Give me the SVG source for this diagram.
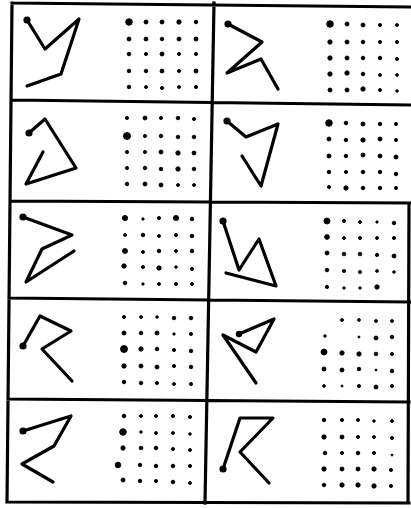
<svg xmlns="http://www.w3.org/2000/svg" width="411" height="508" viewBox="0 0 411 508">
<style>
.frame{fill:none;stroke:#000;stroke-width:3.2;stroke-linecap:square}
.fig{fill:none;stroke:#000;stroke-width:3.2;stroke-linecap:round;stroke-linejoin:round}
.s{fill:#000}
.d{fill:#000;stroke:#000;stroke-width:0.9}
</style>
<rect width="411" height="508" fill="#fff"/>
<g id="grid">
<path class="frame" d="M12,3 L7,502 M12,3 L411,7 M214,3 L205,503 M12,100 L411,105 M11,201 L411,203 M9,298 L411,302 M8,399 L409,402 M7,502 L409,503 M409,203 L408,503"/>
</g>
<g id="cell-1-left">
<polyline class="fig" points="27,20 45,49 79,19 61,74 27,86"/>
<circle class="s" cx="27" cy="20" r="3.6"/>
<g class="d">
<circle cx="129" cy="22" r="3.3"/><circle cx="146" cy="22" r="2"/><circle cx="162" cy="22" r="2"/><circle cx="179" cy="22" r="2.2"/><circle cx="196" cy="22" r="1.8"/>
<circle cx="129" cy="39" r="2"/><circle cx="146" cy="39" r="2"/><circle cx="162" cy="39" r="1.8"/><circle cx="179" cy="39" r="2"/><circle cx="196" cy="39" r="2"/>
<circle cx="129" cy="54" r="1.8"/><circle cx="146" cy="54" r="1.6"/><circle cx="162" cy="54" r="2"/><circle cx="179" cy="54" r="1.6"/><circle cx="196" cy="54" r="1.6"/>
<circle cx="129" cy="71" r="1.8"/><circle cx="146" cy="71" r="1.8"/><circle cx="162" cy="71" r="2"/><circle cx="179" cy="71" r="1.6"/><circle cx="196" cy="71" r="2"/>
<circle cx="129" cy="87" r="1.8"/><circle cx="146" cy="87" r="1.5"/><circle cx="162" cy="88" r="1.6"/><circle cx="179" cy="87" r="1.5"/><circle cx="196" cy="87" r="1.6"/>
</g>
</g>
<g id="cell-1-right">
<polyline class="fig" points="228,24 262,42 227,73 261,59 278,89"/>
<circle class="s" cx="228" cy="24" r="3.6"/>
<g class="d">
<circle cx="330" cy="24" r="3.3"/><circle cx="347" cy="24" r="2"/><circle cx="363" cy="25" r="2"/><circle cx="380" cy="25" r="1.6"/><circle cx="397" cy="25" r="1.5"/>
<circle cx="330" cy="42" r="2.2"/><circle cx="347" cy="42" r="2"/><circle cx="363" cy="42" r="1.8"/><circle cx="380" cy="42" r="1.6"/><circle cx="397" cy="42" r="1.6"/>
<circle cx="330" cy="58" r="2.2"/><circle cx="347" cy="58" r="2"/><circle cx="363" cy="58" r="1.8"/><circle cx="380" cy="58" r="1.8"/><circle cx="397" cy="59" r="1.6"/>
<circle cx="330" cy="74" r="2.2"/><circle cx="347" cy="73" r="2.2"/><circle cx="363" cy="74" r="1.8"/><circle cx="380" cy="75" r="1.5"/><circle cx="397" cy="75" r="1.4"/>
<circle cx="330" cy="90" r="2"/><circle cx="347" cy="90" r="2"/><circle cx="363" cy="89" r="2.2"/><circle cx="380" cy="90" r="1.5"/><circle cx="397" cy="91" r="1.3"/>
</g>
</g>
<g id="cell-2-left">
<polyline class="fig" points="29,133 45,119 76,168 26,184 43,152"/>
<circle class="s" cx="29" cy="133" r="3.6"/>
<g class="d">
<circle cx="127" cy="118" r="1.6"/><circle cx="145" cy="118" r="2"/><circle cx="161" cy="118" r="1.6"/><circle cx="178" cy="118" r="1.8"/><circle cx="194" cy="119" r="1.6"/>
<circle cx="127" cy="136" r="3.5"/><circle cx="145" cy="136" r="1.6"/><circle cx="161" cy="136" r="1.8"/><circle cx="178" cy="137" r="1.8"/><circle cx="194" cy="137" r="1.8"/>
<circle cx="127" cy="152" r="1.6"/><circle cx="145" cy="152" r="1.6"/><circle cx="161" cy="152" r="2"/><circle cx="178" cy="153" r="2.2"/><circle cx="194" cy="153" r="2"/>
<circle cx="127" cy="168" r="1.6"/><circle cx="145" cy="168" r="1.8"/><circle cx="161" cy="169" r="1.8"/><circle cx="178" cy="169" r="2.2"/><circle cx="194" cy="169" r="1.8"/>
<circle cx="127" cy="184" r="1.8"/><circle cx="145" cy="184" r="2"/><circle cx="161" cy="185" r="2"/><circle cx="178" cy="185" r="1.5"/><circle cx="194" cy="185" r="1.5"/>
</g>
</g>
<g id="cell-2-right">
<polyline class="fig" points="227,121 246,137 278,124 261,186 242,156"/>
<circle class="s" cx="227" cy="121" r="3.6"/>
<g class="d">
<circle cx="329" cy="123" r="3.3"/><circle cx="346" cy="123" r="1.8"/><circle cx="363" cy="124" r="2"/><circle cx="380" cy="124" r="1.8"/><circle cx="396" cy="124" r="1.6"/>
<circle cx="329" cy="139" r="2"/><circle cx="346" cy="140" r="1.8"/><circle cx="363" cy="140" r="2.2"/><circle cx="380" cy="139" r="2"/><circle cx="396" cy="140" r="1.6"/>
<circle cx="329" cy="156" r="2"/><circle cx="346" cy="156" r="1.8"/><circle cx="363" cy="155" r="2"/><circle cx="380" cy="156" r="2"/><circle cx="396" cy="157" r="2"/>
<circle cx="329" cy="172" r="1.8"/><circle cx="346" cy="172" r="1.6"/><circle cx="363" cy="172" r="1.8"/><circle cx="380" cy="172" r="1.8"/><circle cx="396" cy="174" r="1.8"/>
<circle cx="329" cy="187" r="1.6"/><circle cx="346" cy="188" r="2.2"/><circle cx="363" cy="188" r="1.8"/><circle cx="380" cy="188" r="1.8"/><circle cx="396" cy="188" r="1.6"/>
</g>
</g>
<g id="cell-3-left">
<polyline class="fig" points="23,217 72,235 42,249 26,282 74,251"/>
<circle class="s" cx="23" cy="217" r="3.6"/>
<g class="d">
<circle cx="125" cy="218" r="2.6"/><circle cx="143" cy="219" r="1.2"/><circle cx="159" cy="218" r="1.6"/><circle cx="176" cy="218" r="2.6"/><circle cx="192" cy="219" r="1.8"/>
<circle cx="125" cy="235" r="1.5"/><circle cx="143" cy="235" r="1.8"/><circle cx="159" cy="236" r="1.5"/><circle cx="176" cy="235" r="1.6"/><circle cx="192" cy="236" r="1.8"/>
<circle cx="125" cy="251" r="2.5"/><circle cx="143" cy="252" r="1.5"/><circle cx="159" cy="251" r="1.8"/><circle cx="176" cy="251" r="1.5"/><circle cx="192" cy="251" r="1.8"/>
<circle cx="124" cy="266" r="2.2"/><circle cx="143" cy="267" r="1.6"/><circle cx="159" cy="268" r="2.2"/><circle cx="176" cy="267" r="1.3"/><circle cx="192" cy="269" r="1.6"/>
<circle cx="125" cy="283" r="1.8"/><circle cx="143" cy="284" r="1.2"/><circle cx="159" cy="284" r="1.5"/><circle cx="176" cy="284" r="1.6"/><circle cx="192" cy="284" r="1.5"/>
</g>
</g>
<g id="cell-3-right">
<polyline class="fig" points="223,221 239,270 259,239 276,286 226,273"/>
<circle class="s" cx="223" cy="221" r="3.6"/>
<g class="d">
<circle cx="327" cy="221" r="3"/><circle cx="344" cy="221" r="1.6"/><circle cx="360" cy="222" r="1.5"/><circle cx="377" cy="222" r="1.2"/><circle cx="394" cy="223" r="1.8"/>
<circle cx="327" cy="237" r="2.4"/><circle cx="344" cy="238" r="1.5"/><circle cx="360" cy="238" r="1.6"/><circle cx="377" cy="238" r="1.5"/><circle cx="394" cy="238" r="1.6"/>
<circle cx="327" cy="253" r="2"/><circle cx="344" cy="254" r="1.8"/><circle cx="360" cy="254" r="1.8"/><circle cx="377" cy="255" r="1.6"/><circle cx="394" cy="256" r="2"/>
<circle cx="327" cy="270" r="1.8"/><circle cx="344" cy="271" r="1.6"/><circle cx="360" cy="272" r="1.6"/><circle cx="377" cy="271" r="1.4"/><circle cx="394" cy="272" r="1.3"/>
<circle cx="327" cy="287" r="1.6"/><circle cx="344" cy="288" r="1.2"/><circle cx="360" cy="288" r="1.2"/><circle cx="377" cy="287" r="2.2"/>
</g>
</g>
<g id="cell-4-left">
<polyline class="fig" points="23,346 40,316 71,331 42,349 72,381"/>
<circle class="s" cx="23" cy="346" r="3.6"/>
<g class="d">
<circle cx="124" cy="317" r="1.6"/><circle cx="141" cy="317" r="1.5"/><circle cx="157" cy="317" r="1.3"/><circle cx="174" cy="318" r="1.8"/><circle cx="191" cy="318" r="1.8"/>
<circle cx="124" cy="333" r="2"/><circle cx="141" cy="333" r="1.8"/><circle cx="157" cy="333" r="2"/><circle cx="174" cy="334" r="1.2"/><circle cx="191" cy="334" r="1.6"/>
<circle cx="124" cy="349" r="3.5"/><circle cx="141" cy="349" r="2.2"/><circle cx="157" cy="349" r="1.8"/><circle cx="174" cy="350" r="1.6"/><circle cx="191" cy="351" r="1.8"/>
<circle cx="124" cy="366" r="2.2"/><circle cx="141" cy="366" r="2"/><circle cx="157" cy="367" r="2"/><circle cx="174" cy="366" r="1.6"/><circle cx="191" cy="367" r="1.8"/>
<circle cx="124" cy="382" r="1.8"/><circle cx="141" cy="383" r="1.8"/><circle cx="157" cy="383" r="1.6"/><circle cx="174" cy="384" r="1.5"/><circle cx="191" cy="384" r="1.6"/>
</g>
</g>
<g id="cell-4-right">
<polyline class="fig" points="239,334 274,319 256,352 223,335 256,383"/>
<circle class="s" cx="239" cy="334" r="3.2"/>
<g class="d">
<circle cx="342" cy="320" r="1.5"/><circle cx="359" cy="320" r="1.4"/><circle cx="376" cy="321" r="1.5"/><circle cx="392" cy="321" r="1.5"/>
<circle cx="325" cy="336" r="1.3"/><circle cx="359" cy="337" r="1"/><circle cx="376" cy="338" r="2"/><circle cx="392" cy="337" r="1.8"/>
<circle cx="324" cy="352" r="3"/><circle cx="342" cy="353" r="2.2"/><circle cx="359" cy="354" r="2.2"/><circle cx="376" cy="354" r="1.8"/><circle cx="392" cy="354" r="1.6"/>
<circle cx="324" cy="369" r="2"/><circle cx="342" cy="370" r="2"/><circle cx="359" cy="369" r="1.8"/><circle cx="376" cy="370" r="1"/><circle cx="392" cy="371" r="1.8"/>
<circle cx="324" cy="386" r="1.4"/><circle cx="342" cy="386" r="1"/><circle cx="359" cy="386" r="1.6"/><circle cx="376" cy="387" r="2"/><circle cx="392" cy="386" r="1.6"/>
</g>
</g>
<g id="cell-5-left">
<polyline class="fig" points="23,431 71,416 54,446 22,464 53,482"/>
<circle class="s" cx="23" cy="431" r="3.6"/>
<g class="d">
<circle cx="124" cy="416" r="1.8"/><circle cx="141" cy="416" r="1.5"/><circle cx="156" cy="416" r="1.5"/><circle cx="173" cy="416" r="1.6"/><circle cx="190" cy="417" r="1.6"/>
<circle cx="123" cy="432" r="3.3"/><circle cx="141" cy="432" r="1.3"/><circle cx="156" cy="433" r="1.5"/><circle cx="173" cy="433" r="1.5"/><circle cx="190" cy="434" r="1.3"/>
<circle cx="123" cy="448" r="2.2"/><circle cx="141" cy="448" r="1.8"/><circle cx="156" cy="448" r="1.8"/><circle cx="173" cy="449" r="1.6"/><circle cx="190" cy="450" r="1.5"/>
<circle cx="118" cy="465" r="2.8"/><circle cx="140" cy="465" r="1.8"/><circle cx="156" cy="466" r="1.8"/><circle cx="173" cy="466" r="1.8"/><circle cx="190" cy="466" r="1.6"/>
<circle cx="123" cy="480" r="2"/><circle cx="140" cy="481" r="1.8"/><circle cx="156" cy="481" r="1.6"/><circle cx="173" cy="482" r="1.8"/><circle cx="190" cy="483" r="1.5"/>
</g>
</g>
<g id="cell-5-right">
<polyline class="fig" points="223,469 240,418 273,418 240,452 269,483"/>
<circle class="s" cx="223" cy="469" r="3.6"/>
<g class="d">
<circle cx="324" cy="420" r="1.8"/><circle cx="342" cy="420" r="1.6"/><circle cx="358" cy="420" r="1.5"/><circle cx="374" cy="421" r="1.3"/><circle cx="392" cy="421" r="1.5"/>
<circle cx="324" cy="437" r="2.2"/><circle cx="342" cy="437" r="2"/><circle cx="358" cy="437" r="1.6"/><circle cx="374" cy="437" r="1.5"/><circle cx="392" cy="438" r="1.6"/>
<circle cx="325" cy="453" r="1.8"/><circle cx="342" cy="453" r="1.6"/><circle cx="358" cy="453" r="1.8"/><circle cx="374" cy="453" r="1.6"/><circle cx="392" cy="455" r="1"/>
<circle cx="324" cy="469" r="2.2"/><circle cx="342" cy="469" r="2"/><circle cx="358" cy="469" r="2"/><circle cx="374" cy="469" r="2.2"/><circle cx="391" cy="470" r="1.6"/>
<circle cx="324" cy="485" r="1.8"/><circle cx="342" cy="485" r="2.2"/><circle cx="358" cy="485" r="2.2"/><circle cx="374" cy="486" r="2.2"/><circle cx="391" cy="486" r="1.6"/>
</g>
</g>
</svg>
